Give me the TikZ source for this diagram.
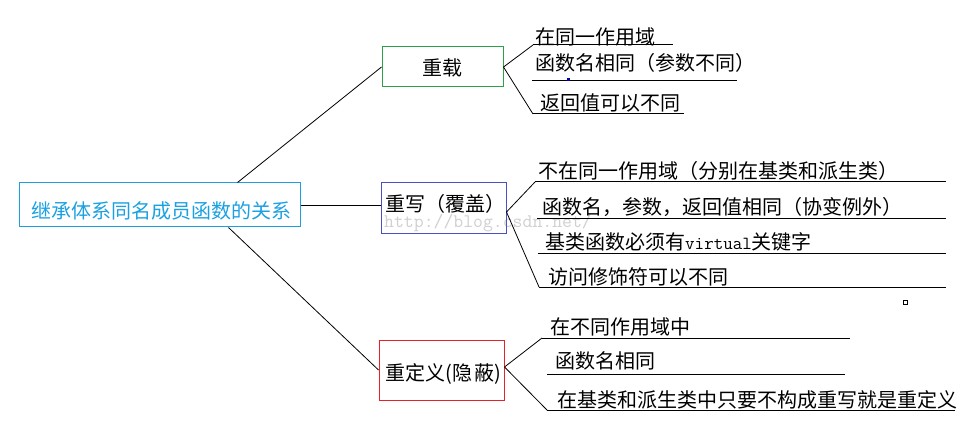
\documentclass[tikz,border=0pt]{standalone}
\usepackage{fontspec}
\newfontfamily\cjk{Noto Sans CJK SC}
\definecolor{rootblue}{HTML}{1BA1E2}
\definecolor{boxgreen}{HTML}{2EA048}
\definecolor{boxblue}{HTML}{4A4FC4}
\definecolor{boxred}{HTML}{E8202A}
\definecolor{wmgray}{HTML}{D0D0D0}
\begin{document}
\begin{tikzpicture}[x=1pt,y=-1pt,
  box/.style={draw, line width=1pt, inner sep=0pt},
  lbl/.style={inner sep=0pt, font=\cjk\fontsize{20}{22}\selectfont},
  leaf/.style={anchor=west, inner sep=0pt, font=\cjk\fontsize{20}{22}\selectfont},
  conn/.style={line width=0.8pt},
  uline/.style={line width=1pt}]
\useasboundingbox (0,0) rectangle (961,422);
\fill[white] (0,0) rectangle (961,422);

% watermark
\node[anchor=west, inner sep=0pt, text=wmgray, font=\ttfamily\fontsize{19.2}{22}\selectfont] (wm) at (384,223) {http://blog.csdn.net/};

% boxes
\node[box, draw=rootblue, minimum width=281pt, minimum height=44pt] (root) at (159.5,205) {};
\node[lbl, text=rootblue] (roottxt) at (161.5,211) {继承体系同名成员函数的关系};
\node[box, draw=boxgreen, minimum width=121pt, minimum height=40pt] (zz) at (442.5,67) {};
\node[lbl] (zztxt) at (442.5,68) {重载};
\node[box, draw=boxblue, minimum width=125pt, minimum height=51pt] (cx) at (443.5,208.5) {};
\node[lbl] (cxtxt) at (445.5,203.5) {重写（覆盖）};
\node[box, draw=boxred, minimum width=125pt, minimum height=60pt] (cd) at (441.5,370) {};
\node[lbl] (cdtxt) at (443.5,373.5) {重定义(隐\hspace{2pt}蔽)};

% root connectors
\draw[conn] ([xshift=-63pt]root.north east) -- (zz.west);
\draw[conn] (root.east) -- (root.east -| cx.west);
\draw[conn] ([xshift=-72pt]root.south east) -- (cd.west);

% 重载 leaves
\coordinate (a1s) at (533,45);  \coordinate (a1e) at (673,45);
\coordinate (a2s) at (532,81);  \coordinate (a2e) at (737,81);
\coordinate (a3s) at (533,114); \coordinate (a3e) at (684,114);
\draw[conn] (zz.east) -- (a1s);
\draw[conn] (zz.east) -- (a3s);
\draw[uline] (a1s) -- (a1e);
\draw[uline] (a2s) -- (a2e);
\draw[uline] (a3s) -- (a3e);
\node[leaf] (a1) at (535,37) {在同一作用域};
\node[leaf] (a2) at (535,63) {函数名相同（参数不同）};
\node[leaf] (a3) at (540,103) {返回值可以不同};
\fill[blue!70!black] (567,78) rectangle (570,81);

% 重写 leaves
\coordinate (b1s) at (535,182); \coordinate (b1e) at (946,182);
\coordinate (b2s) at (537,219); \coordinate (b2e) at (946,219);
\coordinate (b3s) at (538,253); \coordinate (b3e) at (946,253);
\coordinate (b4s) at (539,287); \coordinate (b4e) at (946,287);
\draw[conn] ([yshift=-3.5pt]cx.east) -- (b1s);
\draw[conn] ([yshift=-3.5pt]cx.east) -- (b4s);
\draw[uline] (b1s) -- (b1e);
\draw[uline] (b2s) -- (b2e);
\draw[uline] (b3s) -- (b3e);
\draw[uline] (b4s) -- (b4e);
\node[leaf] (b1) at (538,171) {不在同一作用域（分别在基类和派生类）};
\node[leaf] (b2) at (542,207) {函数名，参数，返回值相同（协变例外）};
\node[leaf] (b3) at (545,242) {基类函数必须有{\ttfamily\fontsize{18.5}{22}\selectfont virtual}关键字};
\node[leaf] (b4) at (548,277) {访问修饰符可以不同};
\draw[line width=1pt] (903,300) rectangle (907.5,304.5);

% 重定义 leaves
\coordinate (c1s) at (542,338); \coordinate (c1e) at (850,338);
\coordinate (c2s) at (547,374); \coordinate (c2e) at (845,374);
\coordinate (c3s) at (547,410); \coordinate (c3e) at (955,410);
\draw[conn] ([yshift=3pt]cd.east) -- (c1s);
\draw[conn] ([yshift=3pt]cd.east) -- (c3s);
\draw[uline] (c1s) -- (c1e);
\draw[uline] (c2s) -- (c2e);
\draw[uline] (c3s) -- (c3e);
\node[leaf] (c1) at (550,327) {在不同作用域中};
\node[leaf] (c2) at (555,361) {函数名相同};
\node[leaf] (c3) at (557,400) {在基类和派生类中只要不构成重写就是重定义};
\end{tikzpicture}
\end{document}
